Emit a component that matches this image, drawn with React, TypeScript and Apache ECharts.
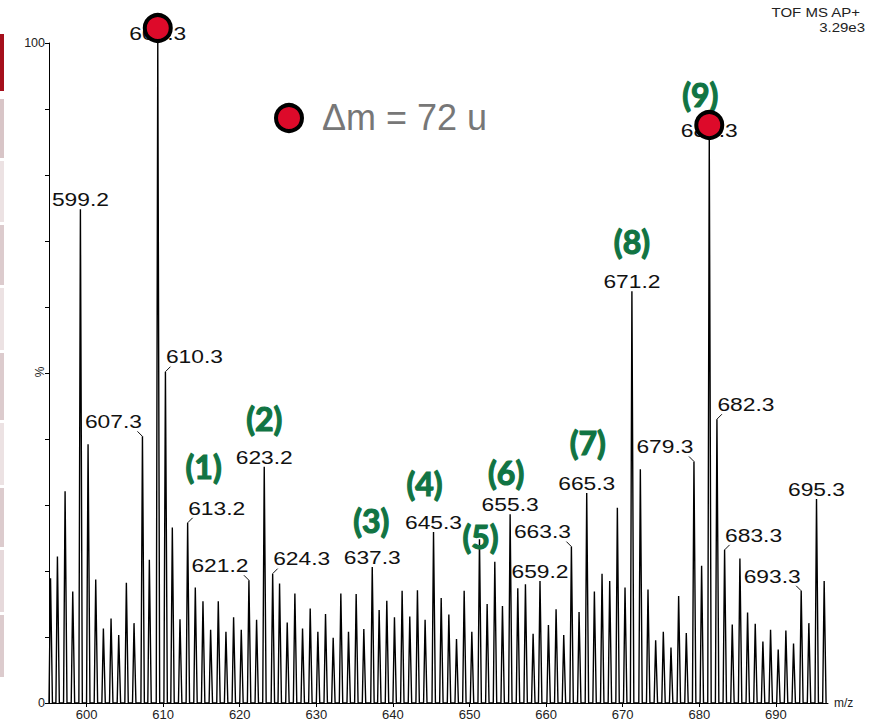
import React, { useEffect, useRef } from 'react';
import * as echarts from 'echarts';

// ---------- data ----------
const peakMz = [
  595.3, 596.2, 597.2, 598.2, 599.2, 600.2, 601.2, 602.2, 603.2, 604.2,
  605.2, 606.2, 607.3, 608.2, 609.3, 610.3, 611.2, 612.2, 613.2, 614.2,
  615.2, 616.2, 617.2, 618.2, 619.2, 620.2, 621.2, 622.2, 623.2, 624.3,
  625.2, 626.2, 627.2, 628.2, 629.2, 630.2, 631.2, 632.2, 633.2, 634.2,
  635.2, 636.2, 637.3, 638.2, 639.2, 640.2, 641.2, 642.2, 643.2, 644.2,
  645.3, 646.3, 647.3, 648.3, 649.3, 650.3, 651.3, 652.3, 653.3, 654.3,
  655.3, 656.3, 657.3, 658.3, 659.2, 660.3, 661.3, 662.3, 663.3, 664.3,
  665.3, 666.3, 667.3, 668.3, 669.3, 670.3, 671.2, 672.3, 673.3, 674.3,
  675.3, 676.3, 677.3, 678.3, 679.3, 680.3, 681.3, 682.3, 683.3, 684.3,
  685.3, 686.3, 687.3, 688.3, 689.3, 690.3, 691.3, 692.3, 693.3, 694.3,
  695.3, 696.3,
];
const peakIntensity = [
  18.9, 22.2, 32.1, 16.9, 74.8, 39.2, 18.7, 11.3, 12.8, 10.3,
  18.2, 12.1, 40.4, 21.7, 100, 50.2, 26.6, 12.7, 27.3, 17.5,
  15.4, 11.1, 15.4, 10.8, 13.0, 11.1, 18.6, 12.6, 35.8, 19.6,
  18.1, 12.2, 16.6, 11.3, 14.3, 10.8, 13.5, 9.9, 16.6, 10.8,
  16.5, 11.2, 20.6, 14.1, 15.5, 13.0, 17.0, 13.1, 17.1, 12.6,
  25.9, 15.9, 13.4, 9.7, 17.0, 10.8, 24.8, 15.0, 21.4, 14.7,
  28.6, 17.4, 18.0, 10.5, 18.5, 11.8, 14.2, 10.3, 23.7, 13.8,
  31.8, 16.9, 19.6, 18.5, 29.6, 17.5, 62.4, 35.4, 17.2, 9.5,
  10.8, 8.4, 16.2, 10.6, 36.6, 20.8, 85.3, 43.0, 23.2, 11.9,
  21.9, 13.7, 12.0, 9.3, 11.1, 8.1, 11.0, 9.0, 17.0, 12.1,
  30.9, 18.5,
];
const labeledPeaks = [
  599.2, 607.3, 609.3, 610.3, 613.2, 621.2, 623.2, 624.3, 637.3, 645.3,
  655.3, 659.2, 663.3, 665.3, 671.2, 679.3, 681.3, 682.3, 683.3, 693.3, 695.3,
];
const leftLeaderPeaks = [607.3, 621.2, 663.3, 679.3, 693.3];
const rightLeaderPeaks = [610.3, 613.2, 624.3, 682.3, 683.3];
const seriesTags = ['(1)', '(2)', '(3)', '(4)', '(5)', '(6)', '(7)', '(8)', '(9)'];
const seriesTagPeaks = [613.2, 623.2, 637.3, 645.3, 651.3, 655.3, 665.3, 671.2, 681.3];
const markedPeaks = [609.3, 681.3];
const xRange = [595.1, 696.8];
const yTickLabels = [0, 100];

// ---------- layout / style (not data) ----------
const tagOffsets = [
  [16, -56], [0, -48], [-1, -47], [-9, -49], [1, -3], [-4, -42], [1, -51], [0, -50], [-9, -46],
];
const LABEL_FONT = '19px "Liberation Sans", Arial, sans-serif';
const TAG_FONT = 'bold 32px Lato, "Open Sans", sans-serif';
const TAG_COLOR = '#117443';
const RED = '#dd0a2a';

const intensityOf = (m: number) => peakIntensity[peakMz.indexOf(m)];

const profile: number[][] = [];
peakMz.forEach((m, i) => {
  profile.push([m - 0.2, 0], [m, peakIntensity[i]], [m + 0.25, 0]);
});

const sideBars = [
  [34, 91, '#a50f1c'],
  [99, 158, '#d8c5c7'],
  [161, 222, '#ece2e3'],
  [225, 285, '#dccbcd'],
  [288, 350, '#ece2e3'],
  [353, 420, '#dccbcd'],
  [423, 485, '#ece2e3'],
  [488, 547, '#dccbcd'],
  [550, 612, '#e6d9db'],
  [615, 677, '#dccbcd'],
];

export default function App() {
  const ref = useRef<HTMLDivElement>(null);
  useEffect(() => {
    if (!ref.current) return;
    const chart = echarts.init(ref.current, undefined, { renderer: 'svg' });
    const option: any = {
      animation: false,
      backgroundColor: '#ffffff',
      grid: { left: 49, right: 49, top: 43, bottom: 19 },
      xAxis: {
        type: 'value',
        min: xRange[0],
        max: xRange[1],
        splitNumber: 10,
        name: 'm/z',
        nameLocation: 'end',
        nameGap: 6,
        nameTextStyle: { color: '#222', fontSize: 12, fontFamily: 'Liberation Sans, Arial' },
        axisLine: { lineStyle: { color: '#000', width: 1 } },
        axisTick: { show: true, length: 4, lineStyle: { color: '#000' } },
        axisLabel: {
          showMinLabel: false,
          showMaxLabel: false,
          margin: 5,
          color: '#222',
          fontSize: 13,
          fontFamily: 'Liberation Sans, Arial',
        },
        splitLine: { show: false },
      },
      yAxis: {
        type: 'value',
        min: 0,
        max: 100,
        interval: 10,
        axisLine: { show: true, lineStyle: { color: '#000', width: 1 } },
        axisTick: { show: true, length: 4, lineStyle: { color: '#000' } },
        axisLabel: {
          margin: 4,
          color: '#222',
          fontSize: 12.5,
          fontFamily: 'Liberation Sans, Arial',
          formatter: (v: number) => (yTickLabels.includes(v) ? String(v) : ''),
        },
        splitLine: { show: false },
      },
      series: [
        {
          type: 'line',
          data: profile,
          showSymbol: false,
          symbol: 'none',
          lineStyle: { color: '#000', width: 1.4 },
          z: 2,
        },
        {
          type: 'custom',
          coordinateSystem: 'cartesian2d',
          clip: false,
          z: 5,
          data: labeledPeaks.map((m) => [m, intensityOf(m)]),
          renderItem: (params: any, api: any) => {
            const m = labeledPeaks[params.dataIndex];
            const p = api.coord([api.value(0), api.value(1)]);
            const text = m.toFixed(1);
            const side = leftLeaderPeaks.includes(m) ? -1 : rightLeaderPeaks.includes(m) ? 1 : 0;
            const children: any[] = [];
            if (side === 0) {
              children.push({
                type: 'text',
                x: p[0],
                y: p[1] - 10,
                scaleX: 1.2,
                style: { text, font: LABEL_FONT, fill: '#111', align: 'center', verticalAlign: 'middle' },
              });
            } else {
              children.push({
                type: 'line',
                shape: { x1: p[0], y1: p[1], x2: p[0] + side * 5, y2: p[1] - 5 },
                style: { stroke: '#111', lineWidth: 1 },
              });
              children.push({
                type: 'text',
                x: p[0] + side * 29,
                y: p[1] - 15,
                scaleX: 1.2,
                style: { text, font: LABEL_FONT, fill: '#111', align: 'center', verticalAlign: 'middle' },
              });
            }
            return { type: 'group', children };
          },
        },
        {
          type: 'custom',
          coordinateSystem: 'cartesian2d',
          clip: false,
          z: 6,
          data: seriesTagPeaks.map((m) => [m, intensityOf(m)]),
          renderItem: (params: any, api: any) => {
            const p = api.coord([api.value(0), api.value(1)]);
            const off = tagOffsets[params.dataIndex];
            return {
              type: 'text',
              x: p[0] + off[0],
              y: p[1] + off[1],
              style: {
                text: seriesTags[params.dataIndex],
                font: TAG_FONT,
                fill: TAG_COLOR,
                stroke: TAG_COLOR,
                lineWidth: 1.2,
                align: 'center',
                verticalAlign: 'middle',
              },
            };
          },
        },
        {
          type: 'scatter',
          data: markedPeaks.map((m) => [m, intensityOf(m)]),
          symbol: 'circle',
          symbolSize: 26,
          symbolOffset: [0, -15],
          clip: false,
          itemStyle: { color: RED, borderColor: '#000', borderWidth: 4, opacity: 1 },
          z: 10,
        },
      ],
      graphic: [
        ...sideBars.map((b) => ({
          type: 'rect',
          shape: { x: 0, y: b[0] as number, width: 4, height: (b[1] as number) - (b[0] as number) },
          style: { fill: b[2] as string },
          silent: true,
        })),
        {
          type: 'text',
          x: 40,
          y: 372,
          rotation: Math.PI / 2,
          style: { text: '%', font: '12px "Liberation Sans", Arial', fill: '#222', align: 'center', verticalAlign: 'middle' },
        },
        {
          type: 'text',
          x: 860,
          y: 13,
          scaleX: 1.2,
          style: { text: 'TOF MS AP+', font: '12.5px "Liberation Sans", Arial', fill: '#222', align: 'right', verticalAlign: 'middle' },
        },
        {
          type: 'text',
          x: 865,
          y: 28,
          scaleX: 1.2,
          style: { text: '3.29e3', font: '12.5px "Liberation Sans", Arial', fill: '#222', align: 'right', verticalAlign: 'middle' },
        },
        {
          type: 'circle',
          shape: { cx: 289, cy: 118, r: 13 },
          style: { fill: RED, stroke: '#000', lineWidth: 4 },
        },
        {
          type: 'text',
          x: 322,
          y: 117,
          style: { text: 'Δm = 72 u', font: '36px "Liberation Sans", Arial', fill: '#777', align: 'left', verticalAlign: 'middle' },
        },
      ],
    };
    chart.setOption(option);
    return () => chart.dispose();
  }, []);
  return <div ref={ref} style={{ position: 'fixed', left: 0, top: 0, width: 877, height: 722 }} />;
}
